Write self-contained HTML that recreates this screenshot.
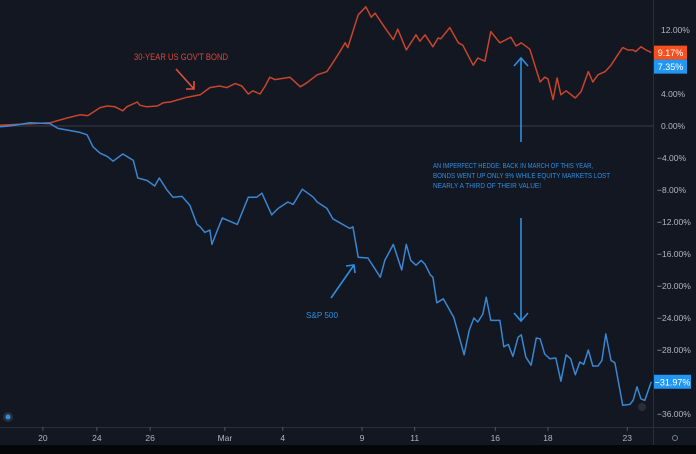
<!DOCTYPE html>
<html><head><meta charset="utf-8"><style>
html,body{margin:0;padding:0;background:#000;}
svg{display:block;font-family:"Liberation Sans",sans-serif;}
</style></head><body>
<svg width="696" height="454" viewBox="0 0 696 454">
<rect x="0" y="0" width="696" height="445" fill="#131722"/>
<rect x="0" y="445" width="696" height="9" fill="#050608"/>
<g id="axes"></g>
<g id="plot"></g>
<g id="notes">
  <text x="134" y="60" fill="#d8493a" font-size="9" textLength="94" lengthAdjust="spacingAndGlyphs">30-YEAR US GOV'T BOND</text>
  <g stroke="#e0503c" stroke-width="1.6" fill="none">
    <line x1="176" y1="69" x2="194" y2="89"/><polyline points="186,89 194,89 194,81"/>
  </g>
  <g stroke="#2f8ee0" stroke-width="1.6" fill="none">
    <line x1="521" y1="142" x2="521" y2="58"/><polyline points="514,66 521,58 528,66"/>
  </g>
  <g stroke="#2f8ee0" stroke-width="1.6" fill="none">
    <line x1="521" y1="218" x2="521" y2="321"/><polyline points="514,313 521,321 528,313"/>
  </g>
  <g stroke="#2f8ee0" stroke-width="1.6" fill="none">
    <line x1="331" y1="298" x2="354" y2="265"/><polyline points="346,266 354,265 355,273"/>
  </g>
  <g fill="#2f8ee0" font-size="7.5">
    <text x="433" y="168" textLength="160" lengthAdjust="spacingAndGlyphs">AN IMPERFECT HEDGE: BACK IN MARCH OF THIS YEAR,</text>
    <text x="433" y="178" textLength="177" lengthAdjust="spacingAndGlyphs">BONDS WENT UP ONLY 9% WHILE EQUITY MARKETS LOST</text>
    <text x="433" y="188" textLength="108" lengthAdjust="spacingAndGlyphs">NEARLY A THIRD OF THEIR VALUE!</text>
  </g>
  <text x="306" y="318" fill="#2f8ee0" font-size="8.5" textLength="32" lengthAdjust="spacingAndGlyphs">S&amp;P 500</text>
  <circle cx="8" cy="417" r="5" fill="#2a2e39"/>
  <circle cx="8" cy="417" r="2.5" fill="#2f8ee0"/>
  <circle cx="642" cy="407" r="4" fill="#2a2e39"/>
  <circle cx="675" cy="438" r="2.5" fill="none" stroke="#787b86"/>
</g>
</svg>
<script>
const bondT=[0,7.7,10.3,12.3,13.5,15.4,16.5,17.7,18.9,19.5,21.1,21.5,22.6,24.2,25.1,26.2,28.8,30.8,32.3,33.8,34.9,36.2,37.2,38.2,38.9,40.0,40.8,41.5,42.3,44.6,46.2,47.2,48.8,50.3,51.2,52.3,53.1,53.5,55.1,56.3,57.1,57.7,59.2,60.5,61.2,62.5,64.0,64.6,65.4,66.6,67.4,67.8,69.2,70.5,71.2,72.8,73.5,74.6,75.5,76.9,78.6,79.4,80.2,81.5,83.1,83.8,84.3,85.1,85.7,86.3,87.1,88.5,89.4,90.5,91.2,92.0,93.1,94.0,94.8,95.8,96.6,97.4,97.8,98.6,99.4,100.2];
const bondV=[0.1,0.4,1.0,1.4,1.3,2.3,2.5,2.4,1.9,2.4,3.0,2.6,2.4,2.5,2.9,3.0,3.6,3.9,4.8,5.0,4.8,5.3,5.0,4.0,4.4,4.0,5.0,6.1,5.8,6.1,4.9,5.4,6.4,6.8,7.9,9.3,10.4,9.8,13.9,14.9,13.6,14.1,12.3,10.8,12.1,9.5,11.4,10.6,11.4,9.9,11.0,10.9,12.3,10.4,10.1,7.6,8.5,8.1,11.8,10.4,11.1,10.0,10.4,9.6,5.5,6.1,5.9,3.3,6.0,3.9,4.4,3.5,4.3,6.8,5.5,6.4,6.8,7.6,8.6,9.8,9.5,9.5,9.3,9.9,9.5,9.17];
const spxT=[0,1.5,4.6,7.7,8.9,10.3,12.3,13.4,14.3,15.4,16.5,17.4,18.9,20.5,21.2,22.6,23.8,24.5,25.7,26.6,28.0,29.2,30.3,30.8,31.5,32.3,32.6,33.5,34.2,36.5,38.2,39.5,40.3,41.8,42.8,44.3,45.1,46.5,48.2,48.8,50.3,51.2,52.3,53.8,54.3,55.1,56.6,58.5,59.2,60.5,61.8,62.5,63.2,64.0,64.8,65.4,66.2,66.6,67.2,68.2,69.8,70.8,71.4,72.2,72.9,73.5,74.3,74.8,75.5,76.9,77.5,78.2,78.9,79.7,80.2,80.9,81.7,82.5,83.1,83.8,84.6,85.5,86.3,87.1,87.8,88.5,89.2,89.8,90.5,91.2,92.0,92.6,93.2,94.0,94.6,95.8,96.9,97.4,98.0,98.6,99.2,100.2];
const spxV=[-0.1,0,0.4,0.3,-0.3,-0.5,-0.8,-1.1,-2.6,-3.4,-3.8,-4.4,-3.5,-4.3,-6.5,-6.8,-7.5,-6.5,-8.0,-8.9,-8.8,-9.9,-12.3,-12.6,-13.3,-13.0,-14.8,-12.9,-11.5,-12.3,-8.9,-8.9,-8.4,-11.1,-10.3,-9.5,-9.8,-7.9,-8.9,-9.5,-10.3,-11.6,-12.1,-12.8,-12.6,-16.4,-16.5,-18.9,-16.8,-14.8,-18.0,-14.8,-16.8,-17.4,-16.8,-17.3,-18.6,-18.9,-22.1,-21.6,-23.9,-26.8,-28.6,-25.5,-24.0,-24.5,-23.5,-21.4,-24.3,-24.3,-27.6,-27.3,-28.8,-26.4,-26.1,-28.9,-29.9,-26.5,-26.6,-28.5,-29.1,-29.0,-31.9,-28.6,-29.1,-31.1,-29.5,-29.8,-28.0,-30.0,-30.0,-29.3,-26.0,-29.3,-29.6,-34.9,-34.8,-34.3,-32.6,-34.1,-34.3,-31.97];
const yTicks=[12,8,4,0,-4,-8,-12,-16,-20,-24,-28,-32,-36];
const xTickLabels=["20","24","26","Mar","4","9","11","16","18","23"];
const xTickT=[6.6,14.9,23.1,34.6,43.5,55.7,63.8,76.2,84.3,96.5];
const bondLast=9.17, spxLast=-31.97, spxPrev=7.35;

const NS="http://www.w3.org/2000/svg";
const X=t=>t*6.5;
const Y=v=>126-v*8;
function mk(tag,attrs,parent,txt){const e=document.createElementNS(NS,tag);for(const k in attrs)e.setAttribute(k,attrs[k]);if(txt!==undefined)e.textContent=txt;parent.appendChild(e);return e;}
const axes=document.getElementById('axes'), plot=document.getElementById('plot');

let zl=mk('line',{x1:0,x2:653,y1:Y(0),y2:Y(0),stroke:'#3a3e4a','stroke-width':1},axes);


let ra=mk('line',{x1:653.5,x2:653.5,y1:0,y2:445,stroke:'#2a2e39'},axes);


let ba=mk('line',{x1:0,x2:696,y1:427.5,y2:427.5,stroke:'#2a2e39'},axes);



yTicks.forEach(v=>{
  const s=(v<0?'\u2212'+Math.abs(v).toFixed(2):v.toFixed(2))+'%';
  const t=mk('text',{x:v<0?657:661,y:Y(v)+3,fill:'#b2b5be','font-size':'8.5','font-weight':'500'},axes,s);
  
  
});
xTickLabels.forEach((l,i)=>{
  const x=X(xTickT[i]);
  mk('line',{x1:x,x2:x,y1:427,y2:431,stroke:'#50535e'},axes);
  const t=mk('text',{x:x,y:441,fill:'#b2b5be','font-size':'8.5','text-anchor':'middle'},axes,l);
  
  
});

function line(T,V,color,name){
  const p=mk('polyline',{points:T.map((t,i)=>X(t).toFixed(1)+','+Y(V[i]).toFixed(1)).join(' '),fill:'none',stroke:color,'stroke-width':1.5,'stroke-linejoin':'round'},plot);
  
  
}
line(bondT,bondV,'#c8452c','bond-line');
line(spxT,spxV,'#3a86d0','sp500-line');

function tag(v,color,name,w,text){
  const g=mk('g',{},plot);
  
  
  mk('rect',{x:654,y:Y(v)-7,width:w,height:14,fill:color},g);
  mk('text',{x:654+w/2,y:Y(v)+3.5,fill:'#fff','font-size':'9','text-anchor':'middle'},g,text);
}
tag(bondLast,'#f5501e','bond-price-tag',33,bondLast.toFixed(2)+'%');
tag(bondLast-1.75,'#2196f3','prev-price-tag',33,spxPrev.toFixed(2)+'%');
tag(spxLast,'#2196f3','sp500-price-tag',37,'\u2212'+Math.abs(spxLast).toFixed(2)+'%');
</script>
</body></html>
